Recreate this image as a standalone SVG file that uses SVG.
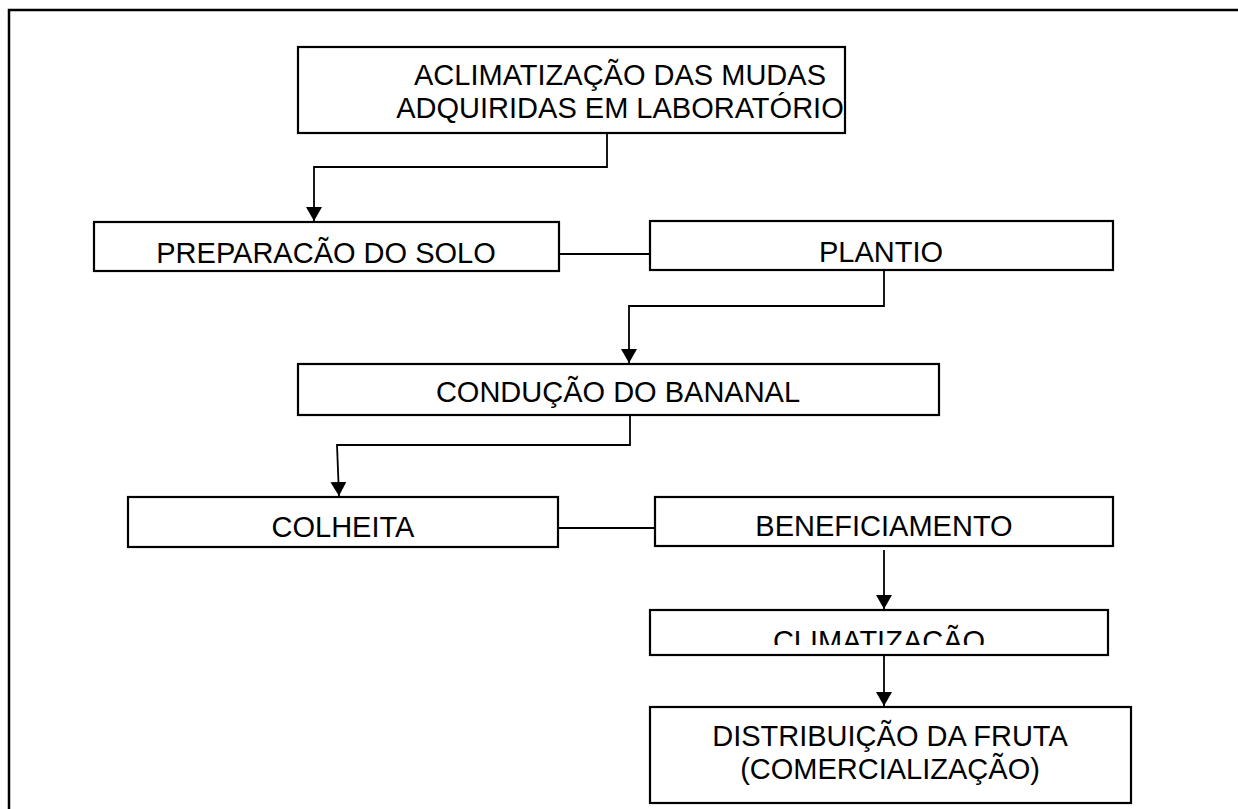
<svg xmlns="http://www.w3.org/2000/svg" width="1238" height="809" viewBox="0 0 1238 809">
<style>
.box{fill:#fff;stroke:#000;stroke-width:2.2}
.lbl{font-family:"Liberation Sans",Arial,sans-serif;font-size:29px;fill:#000;text-anchor:middle}
.con{fill:none;stroke:#000;stroke-width:1.8}
</style>
<defs>
<marker id="arr" viewBox="0 0 14 16" refX="14" refY="8" markerWidth="14" markerHeight="16" markerUnits="userSpaceOnUse" orient="auto">
<path d="M0,0 L14,8 L0,16 Z" fill="#000"/>
</marker>
<clipPath id="clipClim"><rect x="650" y="610" width="458" height="35"/></clipPath>
</defs>
<rect width="1238" height="809" fill="#fff"/>
<g id="frame"><path d="M9,809 V10 H1238" fill="none" stroke="#000" stroke-width="2.5"/></g>
<g id="connectors">
<path class="con" d="M607,133 V167 H314 V221" marker-end="url(#arr)"/>
<path class="con" d="M559,254 H650"/>
<path class="con" d="M884,270 V306 H629 V363" marker-end="url(#arr)"/>
<path class="con" d="M630,415 V445 H337 L339,496" marker-end="url(#arr)"/>
<path class="con" d="M558,528 H655"/>
<path class="con" d="M884,550 V609" marker-end="url(#arr)"/>
<path class="con" d="M884,655 V706" marker-end="url(#arr)"/>
</g>
<g id="n1"><rect class="box" x="298" y="47" width="547" height="86"/><text class="lbl" x="620" y="85">ACLIMATIZAÇÃO DAS MUDAS</text><text class="lbl" x="620" y="118">ADQUIRIDAS EM LABORATÓRIO</text></g>
<g id="n2"><rect class="box" x="94" y="222" width="465" height="49"/><text class="lbl" x="326" y="263">PREPARACÃO DO SOLO</text></g>
<g id="n3"><rect class="box" x="650" y="221" width="463" height="49"/><text class="lbl" x="881" y="262">PLANTIO</text></g>
<g id="n4"><rect class="box" x="298" y="364" width="641" height="51"/><text class="lbl" x="618" y="402">CONDUÇÃO DO BANANAL</text></g>
<g id="n5"><rect class="box" x="128" y="497" width="430" height="50"/><text class="lbl" x="343" y="537">COLHEITA</text></g>
<g id="n6"><rect class="box" x="655" y="497" width="458" height="49"/><text class="lbl" x="884" y="536">BENEFICIAMENTO</text></g>
<g id="n7"><rect class="box" x="650" y="610" width="458" height="45"/><text class="lbl" x="879" y="651" clip-path="url(#clipClim)">CLIMATIZAÇÃO</text></g>
<g id="n8"><rect class="box" x="650" y="707" width="481" height="96"/><text class="lbl" x="890" y="746">DISTRIBUIÇÃO DA FRUTA</text><text class="lbl" x="890" y="779">(COMERCIALIZAÇÃO)</text></g>
</svg>
